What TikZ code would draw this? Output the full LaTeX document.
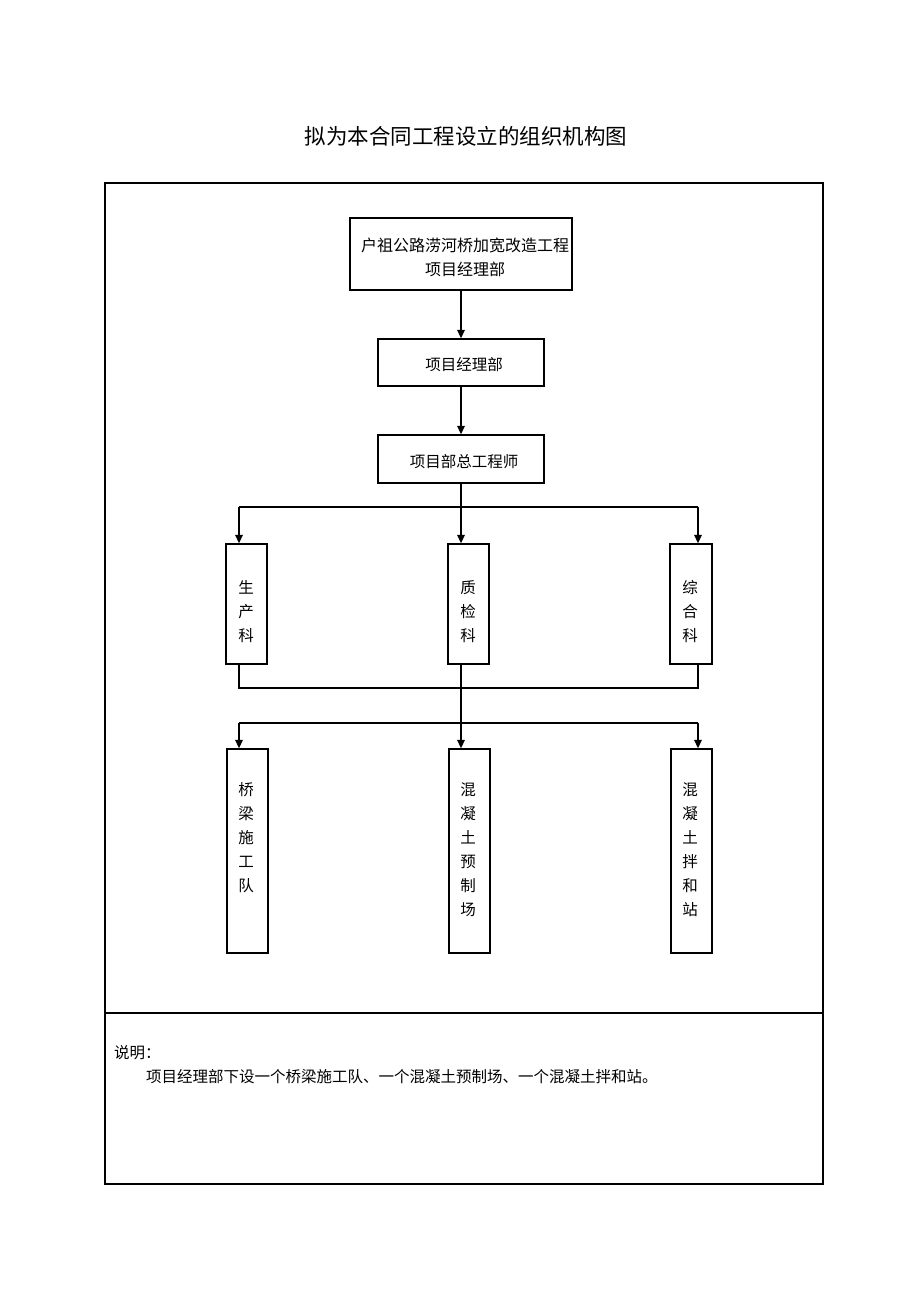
\documentclass[tikz,border=0pt]{standalone}
\usepackage{fontspec}
\newfontfamily\cjk{Noto Sans CJK SC}
\usetikzlibrary{arrows.meta}
\begin{document}
\begin{tikzpicture}[x=1pt,y=-1pt,
  box/.style={draw,line width=1.3pt,inner sep=0pt},
  txt/.style={font=\cjk\fontsize{15.5}{24}\selectfont,align=center,inner sep=0pt},
  conn/.style={line width=1.5pt},
  arr/.style={line width=1.5pt,-{Triangle[length=8.5pt,width=7.5pt]}}]
\useasboundingbox (0,0) rectangle (920,1302);
% title
\node[font=\cjk\fontsize{21.5}{24}\selectfont,inner sep=0pt] (title) at (466,136) {拟为本合同工程设立的组织机构图};
% frame
\draw[line width=2pt] (105,183) rectangle (823,1184);
\draw[line width=1.3pt] (105,1013) -- (823,1013);
% top boxes
\node[box,minimum width=222pt,minimum height=72pt] (b1) at (461,254) {};
\node[box,minimum width=166pt,minimum height=47pt] (b2) at (461,362.5) {};
\node[box,minimum width=166pt,minimum height=48pt] (b3) at (461,459) {};
\node[txt,font=\cjk\fontsize{16}{24}\selectfont] (b1t) at (465,257) {户祖公路涝河桥加宽改造工程\\项目经理部};
\node[txt] (b2t) at (464,365) {项目经理部};
\node[txt] (b3t) at (464,462) {项目部总工程师};
\coordinate (c) at (461,0);
\draw[arr] (c |- b1.south) -- (c |- b2.north);
\draw[arr] (c |- b2.south) -- (c |- b3.north);
% second row
\node[box,minimum width=41pt,minimum height=120pt] (k1) at (246.5,604) {};
\node[box,minimum width=41pt,minimum height=120pt] (k2) at (468.5,604) {};
\node[box,minimum width=42pt,minimum height=120pt] (k3) at (691,604) {};
\node[txt] (k1t) at (246,612) {生\\产\\科};
\node[txt] (k2t) at (468,612) {质\\检\\科};
\node[txt] (k3t) at (690,612) {综\\合\\科};
\coordinate (jl) at (239,507);
\coordinate (jm) at (461,507);
\coordinate (jr) at (698,507);
\draw[conn] (c |- b3.south) -- (jm);
\draw[conn] (jl) -- (jr);
\draw[arr] (jl) -- (jl |- k1.north);
\draw[arr] (jm) -- (jm |- k2.north);
\draw[arr] (jr) -- (jr |- k3.north);
% bottom join
\coordinate (ml) at (239,688);
\coordinate (mr) at (698,688);
\draw[conn] (jl |- k1.south) -- (ml) -- (mr) -- (jr |- k3.south);
% third row
\node[box,minimum width=41pt,minimum height=204pt] (t1) at (247.5,851) {};
\node[box,minimum width=41pt,minimum height=204pt] (t2) at (469.5,851) {};
\node[box,minimum width=41pt,minimum height=204pt] (t3) at (691.5,851) {};
\node[txt,anchor=north] (t1t) at (246,782) {桥\\梁\\施\\工\\队};
\node[txt,anchor=north] (t2t) at (468,782) {混\\凝\\土\\预\\制\\场};
\node[txt,anchor=north] (t3t) at (690,782) {混\\凝\\土\\拌\\和\\站};
\coordinate (ll) at (239,723);
\coordinate (lr) at (698,723);
\draw[conn] (ll) -- (lr);
\draw[arr] (jm |- k2.south) -- (jm |- t2.north);
\draw[arr] (ll) -- (ll |- t1.north);
\draw[arr] (lr) -- (lr |- t3.north);
% description
\node[txt,anchor=west] (d1) at (114,1053) {说明：};
\node[txt,anchor=west] (d2) at (146,1077) {项目经理部下设一个桥梁施工队、一个混凝土预制场、一个混凝土拌和站。};
\end{tikzpicture}
\end{document}
